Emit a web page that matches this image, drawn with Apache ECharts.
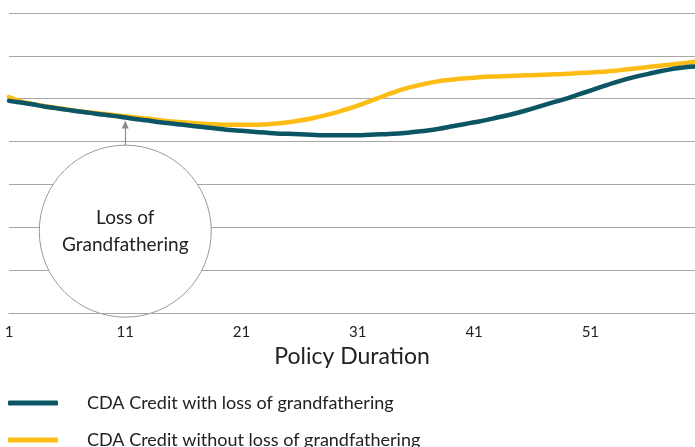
<!DOCTYPE html>
<html><head><meta charset="utf-8">
<script src="https://cdn.jsdelivr.net/npm/echarts@6/dist/echarts.min.js"></script>
<style>html,body{margin:0;padding:0;background:#fff}#c{width:695px;height:447px}</style>
</head><body><div id="c"></div>
<script>
const durations = Array.from({length: 60}, (_, i) => String(i + 1));
const withLoss = [4.95,4.91,4.87,4.82,4.78,4.74,4.70,4.67,4.63,4.60,
  4.56,4.52,4.49,4.45,4.42,4.39,4.36,4.33,4.30,4.27,
  4.25,4.23,4.21,4.19,4.18,4.17,4.16,4.15,4.15,4.15,
  4.15,4.16,4.17,4.18,4.20,4.23,4.26,4.30,4.35,4.40,
  4.45,4.50,4.56,4.62,4.69,4.77,4.85,4.93,5.01,5.10,
  5.19,5.28,5.37,5.45,5.52,5.58,5.64,5.69,5.73,5.75];
const withoutLoss = [5.04,4.94,4.88,4.83,4.79,4.75,4.71,4.68,4.65,4.62,
  4.59,4.56,4.53,4.50,4.47,4.45,4.43,4.41,4.40,4.39,
  4.39,4.39,4.40,4.42,4.45,4.49,4.54,4.60,4.67,4.75,
  4.84,4.94,5.04,5.14,5.23,5.30,5.36,5.41,5.44,5.47,
  5.49,5.51,5.52,5.53,5.54,5.55,5.56,5.57,5.58,5.60,
  5.61,5.63,5.65,5.68,5.71,5.74,5.77,5.80,5.83,5.86];
const seriesNames = ['CDA Credit with loss of grandfathering', 'CDA Credit without loss of grandfathering'];
const annotationText = 'Loss of\nGrandfathering';
const annotationCategory = '11';
const annotationCenter = 1.91;
const arrowFrom = 3.92, arrowTo = 4.40;

const FONT = 'Lato';
const chart = echarts.init(document.getElementById('c'));
chart.setOption({
  animation: false,
  textStyle: {fontFamily: FONT},
  grid: {left: 9, right: 0, top: 13, bottom: 134},
  legend: {
    orient: 'vertical', left: 3, top: 387, height: 120, width: 600, itemGap: 15,
    itemWidth: 50, itemHeight: 5, icon: 'roundRect',
    textStyle: {fontFamily: FONT, fontSize: 18, color: '#222', padding: [0,0,0,24], lineHeight: 22},
    data: seriesNames
  },
  xAxis: {
    type: 'category', data: durations, boundaryGap: false, z: 5,
    axisLine: {lineStyle: {color: '#a6a6a6', width: 1.2}},
    axisTick: {show: false},
    axisLabel: {interval: 9, color: '#222', fontSize: 15, margin: 12, fontFamily: FONT},
    name: 'Policy Duration', nameLocation: 'middle', nameGap: 31,
    nameTextStyle: {fontSize: 23, color: '#222', fontFamily: FONT}
  },
  yAxis: {
    type: 'value', min: 0, max: 7, interval: 1,
    axisLine: {show: false}, axisTick: {show: false}, axisLabel: {show: false},
    splitLine: {lineStyle: {color: '#a6a6a6', width: 1.2}}
  },
  series: [
    {
      name: seriesNames[0], type: 'line', data: withLoss, smooth: true, showSymbol: false,
      lineStyle: {color: '#0b5564', width: 4.5, cap: 'round'}, itemStyle: {color: '#0b5564'}, z: 4
    },
    {
      name: seriesNames[1], type: 'line', data: withoutLoss, smooth: true, showSymbol: false,
      lineStyle: {color: '#fdbd14', width: 4.5, cap: 'round'}, itemStyle: {color: '#fdbd14'}, z: 3,
      markPoint: {
        silent: true, symbol: 'circle', symbolSize: 172,
        itemStyle: {color: '#fff', borderColor: '#999', borderWidth: 1},
        label: {show: true, position: 'inside', formatter: annotationText, color: '#222',
          fontSize: 19, lineHeight: 27, fontFamily: FONT},
        data: [{coord: [annotationCategory, annotationCenter]}]
      },
      markLine: {
        silent: true, symbol: ['none', 'triangle'], symbolSize: [7, 8],
        lineStyle: {color: '#8c8c8c', width: 1.2, type: 'solid'},
        label: {show: false},
        data: [[{coord: [annotationCategory, arrowFrom]}, {coord: [annotationCategory, arrowTo]}]]
      }
    }
  ]
});
</script></body></html>
